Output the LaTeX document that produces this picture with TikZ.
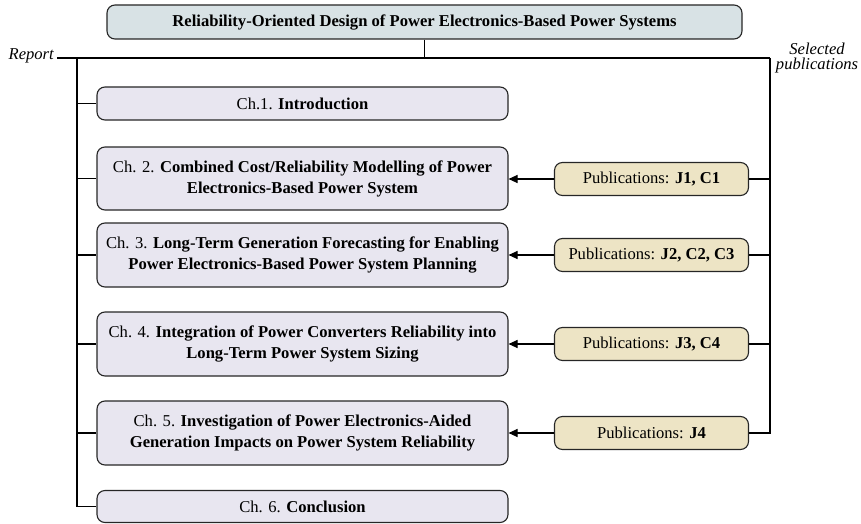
\documentclass[tikz,border=0pt]{standalone}
\usepackage{fontspec}
\setmainfont{Liberation Serif}
\usetikzlibrary{arrows.meta}
\definecolor{titlefill}{RGB}{216,226,229}
\definecolor{chapfill}{RGB}{232,230,240}
\definecolor{pubfill}{RGB}{237,228,197}
\begin{document}
\begin{tikzpicture}[x=1pt,y=-1pt,
  box/.style={draw=black!85, line width=1.1pt, rounded corners=8pt, align=center, inner sep=0pt, font=\fontsize{16.6}{21}\selectfont},
  titlebox/.style={box, fill=titlefill, minimum width=635pt, minimum height=34pt},
  chapbox/.style={box, fill=chapfill, minimum width=411pt},
  pubbox/.style={box, fill=pubfill, minimum width=194pt, minimum height=33pt},
  conn/.style={line width=1.1pt},
  arr/.style={line width=1.1pt, -{Triangle[length=9pt,width=8pt]}}
]
\useasboundingbox (0,0) rectangle (861,524);
\node[titlebox] (title) at (424.5,22) {\textbf{Reliability-Oriented Design of Power Electronics-Based Power Systems}};
\node[chapbox, minimum height=33pt] (c1) at (302.5,103.5) {Ch.1. \textbf{Introduction}};
\node[chapbox, minimum height=63pt] (c2) at (302.5,178.5) {Ch. 2. \textbf{Combined Cost/Reliability Modelling of Power}\\\textbf{Electronics-Based Power System}};
\node[chapbox, minimum height=64pt] (c3) at (302.5,255) {Ch. 3. \textbf{Long-Term Generation Forecasting for Enabling}\\\textbf{Power Electronics-Based Power System Planning}};
\node[chapbox, minimum height=64pt] (c4) at (302.5,344) {Ch. 4. \textbf{Integration of Power Converters Reliability into}\\\textbf{Long-Term Power System Sizing}};
\node[chapbox, minimum height=64pt] (c5) at (302.5,433) {Ch. 5. \textbf{Investigation of Power Electronics-Aided}\\\textbf{Generation Impacts on Power System Reliability}};
\node[chapbox, minimum height=32pt] (c6) at (302.5,506.5) {Ch. 6. \textbf{Conclusion}};
\node[pubbox] (p1) at (651.5,179) {Publications: \textbf{J1, C1}};
\node[pubbox] (p2) at (651.5,255) {Publications: \textbf{J2, C2, C3}};
\node[pubbox] (p3) at (651.5,344) {Publications: \textbf{J3, C4}};
\node[pubbox] (p4) at (651.5,433) {Publications: \textbf{J4}};
\node[anchor=base east, inner sep=0pt, font=\fontsize{16.6}{18}\selectfont\itshape] (rep) at (54,60) {Report};
\node[align=center, inner sep=0pt, font=\fontsize{16.6}{15.5}\selectfont\itshape] (sel) at (817,58) {Selected\\publications};
\coordinate (tl) at (57,58);
\coordinate (tr) at (770,58);
\coordinate (lb) at (77,58);
\draw[conn] (tl) -- (tr);
\draw[conn] (title.south) -- (title.south |- tr);
\draw[conn] (lb) |- (c6.west);
\foreach \c in {c1,c2,c3,c4,c5} \draw[conn] (lb |- \c.west) -- (\c.west);
\draw[conn] (tr) |- (p4.east);
\foreach \p in {p1,p2,p3} \draw[conn] (tr |- \p.east) -- (\p.east);
\foreach \p/\c in {p1/c2,p2/c3,p3/c4,p4/c5} \draw[arr] (\p.west) -- (\p.west -| \c.east);
\end{tikzpicture}
\end{document}
